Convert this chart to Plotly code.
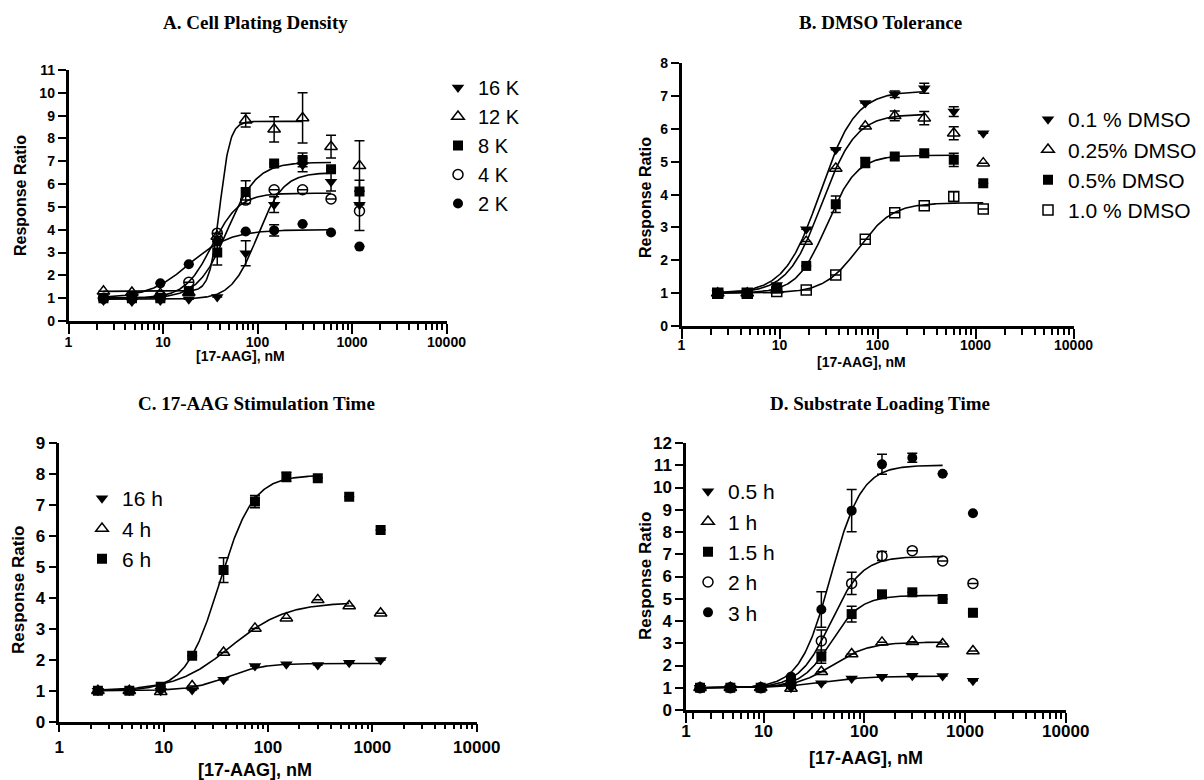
import numpy as np
import plotly.graph_objects as go

W, H = 1204, 780

# ---------------- data ----------------
conc = [2.34375, 4.6875, 9.375, 18.75, 37.5, 75, 150, 300, 600, 1200]

# Panel A: Cell Plating Density
a_names = ["16 K", "12 K", "8 K", "4 K", "2 K"]
a_vals = [
    [0.9, 0.85, 0.9, 0.95, 1.05, 2.97, 5.1, 6.84, 6.1, 5.1],
    [1.3, 1.25, 1.2, 1.25, 3.7, 8.8, 8.4, 8.9, 7.64, 6.8],
    [1.0, 1.0, 1.0, 1.3, 3.0, 5.65, 6.9, 7.06, 6.65, 5.67],
    [1.0, 1.0, 1.1, 1.7, 3.85, 5.3, 5.75, 5.75, 5.35, 4.82],
    [1.0, 1.0, 1.65, 2.49, 3.48, 3.92, 3.97, 4.25, 3.88, 3.26],
]
a_err = [
    [None, None, None, None, None, 0.55, 0.35, 0.3, 0.4, None],
    [None, None, None, None, None, 0.3, 0.55, 1.1, 0.5, 1.1],
    [None, None, None, None, 0.55, 0.5, None, 0.3, None, 0.5],
    [None, None, None, None, None, None, None, None, None, 0.85],
    [None, None, None, None, None, None, 0.25, None, None, None],
]
# fit parameters: bottom, top, EC50, hill, last concentration of the fit
a_fit = [
    (0.95, 6.5, 100, 3.2, 600),
    (1.3, 8.75, 40, 8.0, 300),
    (1.0, 6.95, 48, 2.8, 600),
    (1.0, 5.6, 33, 3.0, 600),
    (1.0, 4.0, 19, 2.0, 600),
]

# Panel B: DMSO Tolerance
b_names = ["0.1 % DMSO", "0.25% DMSO", "0.5% DMSO", "1.0 % DMSO"]
b_vals = [
    [1.0, 1.0, 1.25, 2.95, 5.37, 6.79, 7.06, 7.24, 6.53, 5.87],
    [1.0, 1.0, 1.1, 2.57, 4.8, 6.08, 6.4, 6.33, 5.87, 4.96],
    [1.0, 1.0, 1.15, 1.83, 3.71, 4.98, 5.16, 5.26, 5.06, 4.35],
    [1.0, 1.0, 1.05, 1.1, 1.55, 2.64, 3.45, 3.66, 3.94, 3.56],
]
b_err = [
    [None, None, None, None, None, None, 0.1, 0.15, 0.15, None],
    [None, None, None, None, None, None, 0.15, 0.2, 0.2, None],
    [None, None, None, None, 0.25, 0.15, None, None, 0.2, None],
    [None, None, None, None, None, None, None, None, 0.15, None],
]
b_fit = [
    (1.0, 7.15, 26, 2.4, 300),
    (1.0, 6.45, 27, 2.5, 300),
    (1.0, 5.2, 30.5, 2.85, 600),
    (1.0, 3.75, 64, 2.5, 1200),
]

# Panel C: 17-AAG Stimulation Time
c_names = ["16 h", "4 h", "6 h"]
c_vals = [
    [1.0, 1.0, 1.0, 1.02, 1.35, 1.8, 1.85, 1.83, 1.9, 1.99],
    [1.0, 1.0, 0.97, 1.15, 2.23, 3.01, 3.34, 3.93, 3.73, 3.5],
    [1.0, 1.0, 1.13, 2.13, 4.89, 7.1, 7.9, 7.85, 7.26, 6.18],
]
c_err = [
    [None] * 10,
    [None] * 10,
    [None, None, None, None, 0.4, 0.2, 0.15, None, None, None],
]
c_fit = [
    (1.0, 1.88, 40, 2.5, 1200),
    (1.0, 3.85, 44, 1.65, 600),
    (1.0, 7.95, 34.3, 2.7, 300),
]

# Panel D: Substrate Loading Time
d_names = ["0.5 h", "1 h", "1.5 h", "2 h", "3 h"]
d_vals = [
    [1.0, 1.0, 1.0, 1.0, 1.2, 1.42, 1.5, 1.54, 1.53, 1.32],
    [1.0, 1.0, 1.0, 0.97, 1.72, 2.52, 3.04, 3.07, 2.97, 2.65],
    [1.0, 1.0, 1.0, 1.27, 2.4, 4.31, 5.2, 5.29, 4.99, 4.37],
    [1.0, 1.0, 1.0, 1.2, 3.1, 5.69, 6.92, 7.16, 6.7, 5.69],
    [1.0, 1.0, 1.0, 1.5, 4.52, 8.96, 11.04, 11.34, 10.62, 8.84],
]
d_err = [
    [None] * 10,
    [None] * 10,
    [None, None, None, None, 0.3, 0.35, None, None, None, None],
    [None, None, None, None, 0.5, 0.5, 0.2, None, None, None],
    [None, None, None, None, 0.8, 0.95, 0.45, 0.2, None, None],
]
d_fit = [
    (1.0, 1.52, 40, 2.0, 600),
    (1.0, 3.05, 48.5, 2.4, 600),
    (1.0, 5.15, 47, 2.95, 600),
    (1.0, 6.9, 46.4, 2.8, 600),
    (1.0, 11.0, 46.5, 2.85, 600),
]

# ---------------- styles ----------------
SYM = {
    "tri_down": dict(symbol="triangle-down", color="black", size=11, line=dict(width=0)),
    "tri_open": dict(symbol="triangle-up-open", color="black", size=11, line=dict(width=1.5, color="black")),
    "sq": dict(symbol="square", color="black", size=10, line=dict(width=0)),
    "circ_open": dict(symbol="circle-open", color="black", size=10, line=dict(width=1.5, color="black")),
    "circ": dict(symbol="circle", color="black", size=10, line=dict(width=0)),
    "sq_open": dict(symbol="square-open", color="black", size=10, line=dict(width=1.5, color="black")),
}
a_sym = ["tri_down", "tri_open", "sq", "circ_open", "circ"]
b_sym = ["tri_down", "tri_open", "sq", "sq_open"]
c_sym = ["tri_down", "tri_open", "sq"]
d_sym = ["tri_down", "tri_open", "sq", "circ_open", "circ"]


def fx(px):
    return px / W


def fy(py):
    return 1 - py / H


def fourpl(x, p):
    b, t, ec, h, _ = p
    x = np.asarray(x)
    return b + (t - b) / (1 + (ec / x) ** h)


fig = go.Figure()

panels = [
    ("", a_names, a_vals, a_err, a_fit, a_sym, "legend"),
    ("2", b_names, b_vals, b_err, b_fit, b_sym, "legend2"),
    ("3", c_names, c_vals, c_err, c_fit, c_sym, "legend3"),
    ("4", d_names, d_vals, d_err, d_fit, d_sym, "legend4"),
]

for ax, names, vals, errs, fits, syms, lg in panels:
    for p in fits:
        xs = np.logspace(np.log10(conc[0]), np.log10(p[4]), 300)
        fig.add_trace(go.Scatter(x=xs, y=fourpl(xs, p), mode="lines",
                                 line=dict(color="black", width=1.6),
                                 xaxis="x" + ax, yaxis="y" + ax,
                                 showlegend=False, hoverinfo="skip"))
    for i, (nm, v, e, s) in enumerate(zip(names, vals, errs, syms)):
        fig.add_trace(go.Scatter(
            x=conc, y=v, mode="markers", name=nm, marker=SYM[s],
            error_y=dict(type="data", array=e, visible=True, color="black",
                         thickness=1.5, width=5),
            xaxis="x" + ax, yaxis="y" + ax, legend=lg, legendgroup=lg + str(i),
        ))

# ---------------- axes ----------------
SANSF = "Liberation Sans, Arial"


def minor_vals(lo_exp, hi_exp):
    out = []
    for e in range(lo_exp, hi_exp):
        for m in range(2, 10):
            out.append(m * 10 ** e)
    return out


def xaxis(dom, rng, tickvals, anchor, fs, standoff, tl=10, mtl=6):
    return dict(type="log", domain=dom, range=rng, anchor=anchor,
                showline=True, linecolor="black", linewidth=2.5,
                ticks="outside", ticklen=tl, tickwidth=2, tickcolor="black",
                tickvals=tickvals, ticktext=["1", "10", "100", "1000", "10000"],
                tickfont=dict(family=SANSF, size=fs, color="black", weight="bold"),
                ticklabelstandoff=standoff,
                minor=dict(tickvals=minor_vals(0, 4), ticks="outside", ticklen=mtl,
                           tickwidth=2, tickcolor="black", showgrid=False),
                showgrid=False, zeroline=False, fixedrange=True)


def yaxis(dom, ymax, anchor, fs):
    return dict(domain=dom, range=[0, ymax], anchor=anchor,
                showline=True, linecolor="black", linewidth=2.5,
                ticks="outside", ticklen=8, tickwidth=2, tickcolor="black",
                tickmode="linear", tick0=0, dtick=1,
                tickfont=dict(family=SANSF, size=fs, color="black", weight="bold"),
                showgrid=False, zeroline=False, fixedrange=True)


dec = [1, 10, 100, 1000, 10000]

fig.update_layout(
    xaxis=xaxis([fx(68.5), fx(446.5)], [0, 4], dec, "y", 14, -4),
    yaxis=yaxis([fy(321), fy(70)], 11, "x", 14),
    xaxis2=xaxis([fx(681.5), fx(1073.5)], [0, 4], dec, "y2", 14, -6),
    yaxis2=yaxis([fy(326), fy(63.3)], 8, "x2", 14),
    xaxis3=xaxis([fx(59.3), fx(476.7)], [0, 4], dec, "y3", 17, 0, tl=8, mtl=5),
    yaxis3=yaxis([fy(721.7), fy(442.7)], 9, "x3", 17),
    xaxis4=xaxis([fx(686), fx(1065.7)], [np.log10(1.7), 4], [1.7, 10, 100, 1000, 10000],
                 "y4", 17, -6),
    yaxis4=yaxis([fy(710), fy(443)], 12, "x4", 17),
)


# ---------------- legends ----------------
def legend(xpx, ypx, fs):
    return dict(x=fx(xpx), y=fy(ypx), xanchor="left", yanchor="top",
                bgcolor="rgba(0,0,0,0)", borderwidth=0,
                font=dict(family=SANSF, size=fs, color="black"),
                traceorder="grouped", tracegroupgap=0, itemsizing="trace")


fig.update_layout(
    legend=legend(438, 68, 20),
    legend2=legend(1028, 99, 21),
    legend3=legend(82, 478, 21),
    legend4=legend(688, 471, 21),
)

# ---------------- titles ----------------
SERIF = dict(family="Liberation Serif, Times New Roman", size=19, color="black", weight="bold")
ann = []
for txt, x, y in [("A. Cell Plating Density", 255, 22), ("B. DMSO Tolerance", 880, 22),
                  ("C. 17-AAG Stimulation Time", 256, 403), ("D. Substrate Loading Time", 880, 403)]:
    ann.append(dict(text=txt, x=fx(x), y=fy(y), xref="paper", yref="paper",
                    showarrow=False, font=SERIF, xanchor="center", yanchor="middle"))
for x, y, fs in [(20, 196, 16), (645, 198, 16), (18, 590, 17), (645, 576, 17)]:
    ann.append(dict(text="Response Ratio", x=fx(x), y=fy(y), xref="paper", yref="paper",
                    showarrow=False, textangle=-90, xanchor="center", yanchor="middle",
                    font=dict(family=SANSF, size=fs, color="black", weight="bold")))
for x, y, fs in [(240, 356, 14), (861, 362, 14), (255, 770, 18), (866, 758, 18)]:
    ann.append(dict(text="[17-AAG], nM", x=fx(x), y=fy(y), xref="paper", yref="paper",
                    showarrow=False, xanchor="center", yanchor="middle",
                    font=dict(family=SANSF, size=fs, color="black", weight="bold")))

fig.update_layout(
    width=W, height=H,
    margin=dict(l=0, r=0, t=0, b=0, pad=0, autoexpand=False),
    paper_bgcolor="white", plot_bgcolor="white",
    annotations=ann, showlegend=True,
)

fig.write_html("out.html", config={"displayModeBar": False},
               post_script="document.body.style.margin='0px';")
